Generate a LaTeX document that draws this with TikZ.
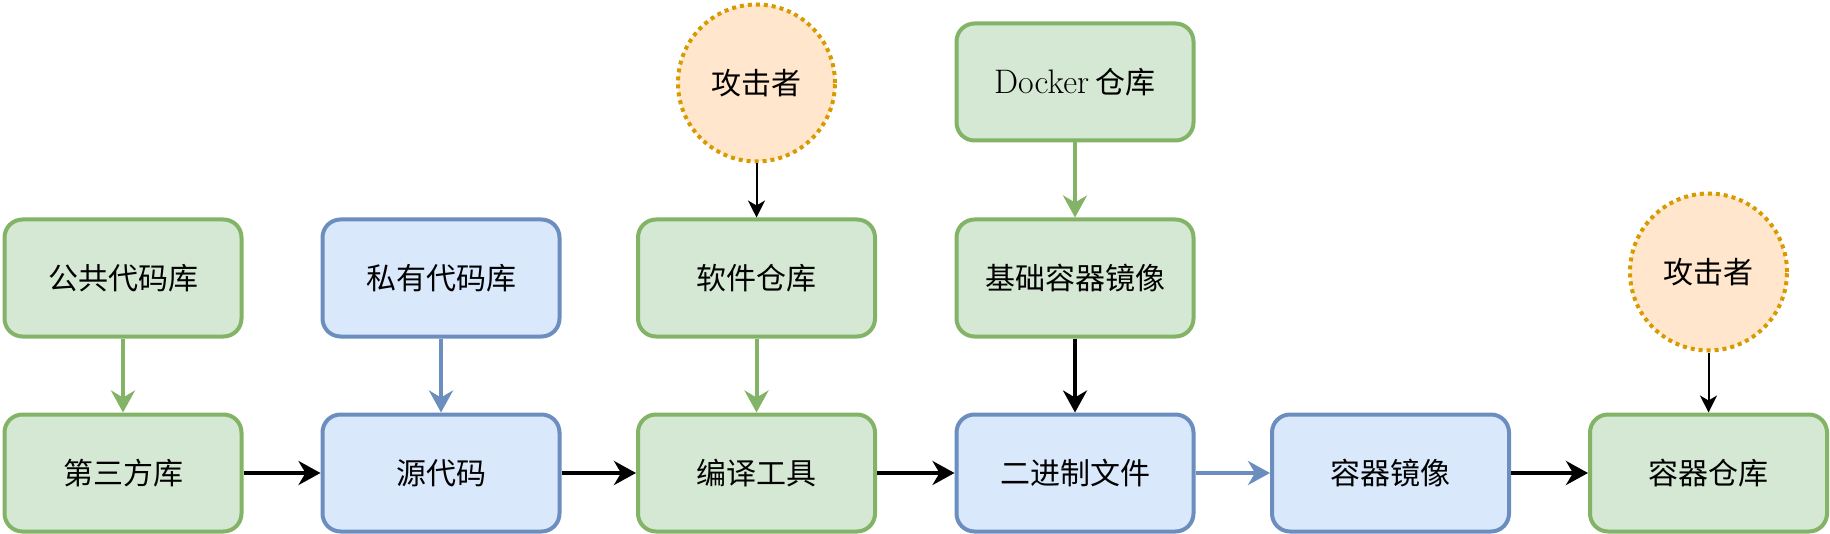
\documentclass[tikz,border=0pt]{standalone}
\usepackage{fontspec}
\usepackage{tikz}
\usetikzlibrary{arrows.meta}
\newfontfamily\cjk{Noto Sans CJK SC}
\definecolor{greenfill}{HTML}{D5E8D4}
\definecolor{greenline}{HTML}{82B366}
\definecolor{bluefill}{HTML}{DAE8FC}
\definecolor{blueline}{HTML}{6C8EBF}
\definecolor{orangefill}{HTML}{FFE6CC}
\definecolor{orangeline}{HTML}{D79B00}

\begin{document}
\begin{tikzpicture}[x=0.5pt, y=-0.5pt,
	box/.style={rectangle, rounded corners=9pt, line width=2pt, minimum width=118.5pt, minimum height=58.5pt, inner sep=0pt, font=\fontsize{15}{18}\selectfont\cjk},
	greenbox/.style={box, draw=greenline, fill=greenfill},
	bluebox/.style={box, draw=blueline, fill=bluefill},
	attacker/.style={circle, draw=orangeline, fill=orangefill, line width=2pt, dash pattern=on 2pt off 2pt, minimum size=78.5pt, inner sep=0pt, font=\fontsize{15}{18}\selectfont\cjk},
	flow/.style={line width=2pt, -{Stealth[length=11pt, width=12pt, inset=3.5pt]}},
	thinflow/.style={line width=1pt, -{Stealth[length=8.5pt, width=8.5pt, inset=2.5pt]}}]
	\useasboundingbox (0,0) rectangle (1830,534);
	% bottom row
	\node[greenbox] (third) at (123,473) {第三方库};
	\node[bluebox] (src) at (441,473) {源代码};
	\node[greenbox] (build) at (756.5,473) {编译工具};
	\node[bluebox] (bin) at (1075,473) {二进制文件};
	\node[bluebox] (image) at (1390.5,473) {容器镜像};
	\node[greenbox] (registry) at (1708.5,473) {容器仓库};
	% upper rows
	\node[greenbox] (public) at (123,278) {公共代码库};
	\node[bluebox] (private) at (441,278) {私有代码库};
	\node[greenbox] (repo) at (756.5,278) {软件仓库};
	\node[greenbox] (base) at (1075,278) {基础容器镜像};
	\node[greenbox] (docker) at (1075,82) {{\rmfamily\fontsize{17}{18}\selectfont Docker} 仓库};
	\node[attacker] (atkA) at (756.5,83) {攻击者};
	\node[attacker] (atkB) at (1708.5,272) {攻击者};
	% connectors
	\draw[flow] (third) -- (src);
	\draw[flow] (src) -- (build);
	\draw[flow] (build) -- (bin);
	\draw[flow, blueline] (bin) -- (image);
	\draw[flow] (image) -- (registry);
	\draw[flow, greenline] (public) -- (third);
	\draw[flow, blueline] (private) -- (src);
	\draw[flow, greenline] (repo) -- (build);
	\draw[flow, greenline] (docker) -- (base);
	\draw[flow] (base) -- (bin);
	\draw[thinflow] (atkA) -- (repo);
	\draw[thinflow] (atkB) -- (registry);
\end{tikzpicture}
\end{document}
